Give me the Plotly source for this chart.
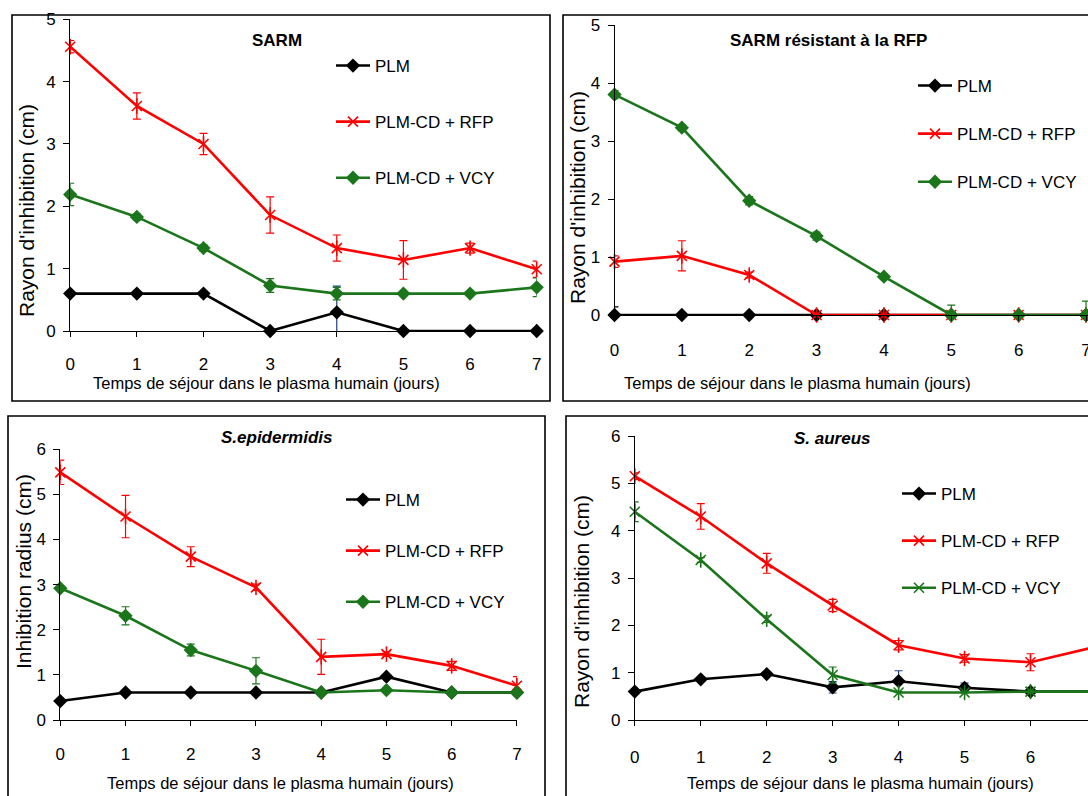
import plotly.graph_objects as go

W, H = 1088, 796
PAGE_OFFSET = 0  # body margin removed in the page (see post_script below)

days = [0, 1, 2, 3, 4, 5, 6, 7]
series_names = ["PLM", "PLM-CD + RFP", "PLM-CD + VCY"]

# Panel 1 : SARM
p1_plm = [0.6, 0.6, 0.6, 0.0, 0.3, 0.0, 0.0, 0.0]
p1_plm_err = [0, 0, 0, 0, 0.42, 0, 0, 0]
p1_rfp = [4.56, 3.61, 3.0, 1.86, 1.33, 1.14, 1.33, 0.99]
p1_rfp_err = [0.10, 0.21, 0.17, 0.29, 0.21, 0.31, 0.08, 0.13]
p1_vcy = [2.19, 1.83, 1.33, 0.73, 0.60, 0.60, 0.60, 0.70]
p1_vcy_err = [0.18, 0.05, 0.05, 0.11, 0.10, 0.0, 0.0, 0.15]

# Panel 2 : SARM résistant à la RFP
p2_plm = [0, 0, 0, 0, 0, 0, 0, 0]
p2_plm_err = [0.14, 0, 0, 0, 0, 0, 0, 0]
p2_rfp = [0.92, 1.02, 0.69, 0, 0, 0, 0, 0]
p2_rfp_err = [0.10, 0.26, 0.05, 0, 0, 0, 0, 0]
p2_vcy = [3.80, 3.23, 1.97, 1.36, 0.66, 0, 0, 0]
p2_vcy_err = [0.07, 0.05, 0.07, 0.07, 0.04, 0.17, 0.0, 0.24]

# Panel 3 : S.epidermidis
p3_plm = [0.42, 0.61, 0.61, 0.61, 0.61, 0.96, 0.61, 0.61]
p3_plm_err = [0, 0, 0, 0, 0, 0, 0, 0]
p3_rfp = [5.49, 4.51, 3.62, 2.94, 1.40, 1.46, 1.20, 0.76]
p3_rfp_err = [0.27, 0.47, 0.22, 0.07, 0.39, 0.05, 0.10, 0.20]
p3_vcy = [2.92, 2.31, 1.55, 1.09, 0.61, 0.66, 0.61, 0.61]
p3_vcy_err = [0.05, 0.20, 0.13, 0.29, 0, 0, 0, 0]

# Panel 4 : S. aureus
p4_plm = [0.60, 0.86, 0.97, 0.69, 0.82, 0.68, 0.60, 0.60]
p4_plm_err = [0, 0, 0, 0.12, 0.22, 0.10, 0, 0]
p4_rfp = [5.15, 4.30, 3.31, 2.42, 1.58, 1.30, 1.22, 1.55]
p4_rfp_err = [0.07, 0.27, 0.21, 0.13, 0.10, 0.08, 0.18, 0.10]
p4_vcy = [4.40, 3.38, 2.13, 0.95, 0.58, 0.58, 0.60, 0.60]
p4_vcy_err = [0.21, 0.05, 0.07, 0.17, 0, 0, 0, 0]

panel_titles = ["SARM", "SARM résistant à la RFP", "<i>S.epidermidis</i>", "<i>S. aureus</i>"]
y_titles = ["Rayon d'inhibition (cm)", "Rayon d'inhibition (cm)", "Inhibition radius (cm)", "Rayon d'inhibition (cm)"]
x_title = "Temps de séjour dans le plasma humain (jours)"

BLACK = "#000000"
RED = "#FF0000"
GREEN = "#1B761B"
BLUE = "#1F3F7F"

FONT = "Liberation Sans, Arial, sans-serif"


def fx(px):
    return (px - PAGE_OFFSET) / W


def fy(py):
    return 1 - (py - PAGE_OFFSET) / H


# layout geometry (screen pixels)
panels = [
    dict(x0=70.2, x7=536.7, xend=536.7, ymin=331, ymax=19.3, yr=5,
         data=(p1_plm, p1_plm_err, p1_rfp, p1_rfp_err, p1_vcy, p1_vcy_err),
         plm_err_col=BLUE, vcy_sym="diamond", tso=13,
         title=(277, 40), ytitle=(27, 211), xtitle=(266, 383), leg=(337, 66), gap=31),
    dict(x0=614.5, x7=1086, xend=W + PAGE_OFFSET, ymin=315, ymax=25, yr=5,
         data=(p2_plm, p2_plm_err, p2_rfp, p2_rfp_err, p2_vcy, p2_vcy_err),
         plm_err_col=BLACK, vcy_sym="diamond", tso=15,
         title=(828, 40), ytitle=(577, 198), xtitle=(797, 383), leg=(919, 86), gap=23),
    dict(x0=60.3, x7=516.9, xend=516.9, ymin=720, ymax=449.3, yr=6,
         data=(p3_plm, p3_plm_err, p3_rfp, p3_rfp_err, p3_vcy, p3_vcy_err),
         plm_err_col=BLACK, vcy_sym="diamond", tso=14,
         title=(276, 437), ytitle=(23, 572), xtitle=(280, 783), leg=(347, 500), gap=26),
    dict(x0=634.8, x7=634.8 + 7 * 65.95, xend=W + PAGE_OFFSET, ymin=720, ymax=436, yr=6,
         data=(p4_plm, p4_plm_err, p4_rfp, p4_rfp_err, p4_vcy, p4_vcy_err),
         plm_err_col=BLUE, vcy_sym="star", tso=17,
         title=(832, 438), ytitle=(581, 602), xtitle=(860, 783), leg=(903, 494), gap=22),
]

fig = go.Figure()
annotations = []
shapes = []
layout_extra = {}

for i, p in enumerate(panels, start=1):
    xa = "x" if i == 1 else f"x{i}"
    ya = "y" if i == 1 else f"y{i}"
    leg = "legend" if i == 1 else f"legend{i}"
    plm, plm_err, rfp, rfp_err, vcy, vcy_err = p["data"]

    # PLM
    fig.add_trace(go.Scatter(
        x=days, y=plm, name=series_names[0], mode="lines+markers", xaxis=xa, yaxis=ya,
        legend=leg, legendgroup=f"g{i}a",
        line=dict(color=BLACK, width=2.6),
        marker=dict(symbol="diamond", size=11, color=BLACK),
        error_y=dict(type="data", array=plm_err, color=p["plm_err_col"], thickness=1.2, width=4),
        cliponaxis=False))
    # RFP (Excel-style star : x + vertical bar)
    fig.add_trace(go.Scatter(
        x=days, y=rfp, name=series_names[1], mode="lines+markers", xaxis=xa, yaxis=ya,
        legend=leg, legendgroup=f"g{i}b",
        line=dict(color=RED, width=2.6),
        marker=dict(symbol="x-thin-open", size=10, color=RED, line=dict(color=RED, width=1.6)),
        error_y=dict(type="data", array=rfp_err, color=RED, thickness=1.2, width=4),
        cliponaxis=False))
    fig.add_trace(go.Scatter(
        x=days, y=rfp, mode="markers", xaxis=xa, yaxis=ya, showlegend=False, hoverinfo="skip",
        marker=dict(symbol="line-ns-open", size=11, color=RED, line=dict(color=RED, width=1.6)),
        cliponaxis=False))
    # VCY
    if p["vcy_sym"] == "diamond":
        fig.add_trace(go.Scatter(
            x=days, y=vcy, name=series_names[2], mode="lines+markers", xaxis=xa, yaxis=ya,
            legend=leg, legendgroup=f"g{i}c",
            line=dict(color=GREEN, width=2.6),
            marker=dict(symbol="diamond", size=11, color=GREEN),
            error_y=dict(type="data", array=vcy_err, color=GREEN, thickness=1.2, width=4),
            cliponaxis=False))
    else:
        fig.add_trace(go.Scatter(
            x=days, y=vcy, name=series_names[2], mode="lines+markers", xaxis=xa, yaxis=ya,
            legend=leg, legendgroup=f"g{i}c",
            line=dict(color=GREEN, width=2.6),
            marker=dict(symbol="x-thin-open", size=10, color=GREEN, line=dict(color=GREEN, width=1.6)),
            error_y=dict(type="data", array=vcy_err, color=GREEN, thickness=1.2, width=4),
            cliponaxis=False))
        fig.add_trace(go.Scatter(
            x=days, y=vcy, mode="markers", xaxis=xa, yaxis=ya, showlegend=False, hoverinfo="skip",
            marker=dict(symbol="line-ns-open", size=11, color=GREEN, line=dict(color=GREEN, width=1.6)),
            cliponaxis=False))

    # axes
    px_per_day = (p["x7"] - p["x0"]) / 7
    x_right = p["xend"]
    xmax = (x_right - p["x0"]) / px_per_day
    xkey = "xaxis" if i == 1 else f"xaxis{i}"
    ykey = "yaxis" if i == 1 else f"yaxis{i}"
    layout_extra[xkey] = dict(
        domain=[fx(p["x0"]), min(fx(x_right), 1.0)], range=[0, xmax], anchor=ya,
        tickvals=days, ticktext=[str(d) for d in days],
        showline=True, linecolor=BLACK, linewidth=1, ticks="outside", ticklen=5, tickcolor=BLACK,
        showgrid=False, zeroline=False, tickfont=dict(family=FONT, size=17, color=BLACK),
        ticklabelstandoff=p["tso"], ticklabeloverflow="allow", fixedrange=True, automargin=False)
    layout_extra[ykey] = dict(
        domain=[fy(p["ymin"]), fy(p["ymax"])], range=[0, p["yr"]], anchor=xa,
        tickvals=list(range(p["yr"] + 1)), showline=True, linecolor=BLACK, linewidth=1,
        ticks="outside", ticklen=6, tickcolor=BLACK, showgrid=False, zeroline=False,
        tickfont=dict(family=FONT, size=17, color=BLACK), ticklabelstandoff=4, fixedrange=True,
        automargin=False)

    # legend
    lkey = "legend" if i == 1 else f"legend{i}"
    layout_extra[lkey] = dict(
        x=fx(p["leg"][0] - 6), y=fy(p["leg"][1] - 18), xanchor="left", yanchor="top",
        xref="paper", yref="paper", bgcolor="rgba(0,0,0,0)", borderwidth=0,
        font=dict(family=FONT, size=17, color=BLACK), tracegroupgap=p["gap"], itemwidth=34,
        traceorder="grouped")

    # titles
    annotations.append(dict(text=f"<b>{panel_titles[i-1]}</b>", x=fx(p["title"][0]), y=fy(p["title"][1]),
                            xref="paper", yref="paper", showarrow=False, xanchor="center", yanchor="middle",
                            font=dict(family=FONT, size=17, color=BLACK)))
    annotations.append(dict(text=y_titles[i-1], x=fx(p["ytitle"][0]), y=fy(p["ytitle"][1]),
                            xref="paper", yref="paper", showarrow=False, xanchor="center", yanchor="middle",
                            textangle=-90, font=dict(family=FONT, size=21, color=BLACK)))
    annotations.append(dict(text=x_title, x=fx(p["xtitle"][0]), y=fy(p["xtitle"][1]),
                            xref="paper", yref="paper", showarrow=False, xanchor="center", yanchor="middle",
                            font=dict(family=FONT, size=16.5, color=BLACK)))

# panel frames
frames = [(12, 15, 550, 401), (563, 15, 1200, 401), (8, 416, 545, 900), (566, 416, 1200, 900)]
for (a, b, c, d) in frames:
    shapes.append(dict(type="rect", xref="paper", yref="paper", x0=fx(a), x1=fx(c), y0=fy(b), y1=fy(d),
                       line=dict(color=BLACK, width=1.6), fillcolor="rgba(0,0,0,0)", layer="below"))

fig.update_layout(
    width=W, height=H, margin=dict(l=0, r=0, t=0, b=0, pad=0, autoexpand=False),
    paper_bgcolor="white", plot_bgcolor="white", hovermode=False,
    annotations=annotations, shapes=shapes, **layout_extra)

fig.write_html(
    "out.html",
    config={"displayModeBar": False, "staticPlot": False},
    post_script="document.body.style.margin='0';document.body.style.overflow='hidden';")
